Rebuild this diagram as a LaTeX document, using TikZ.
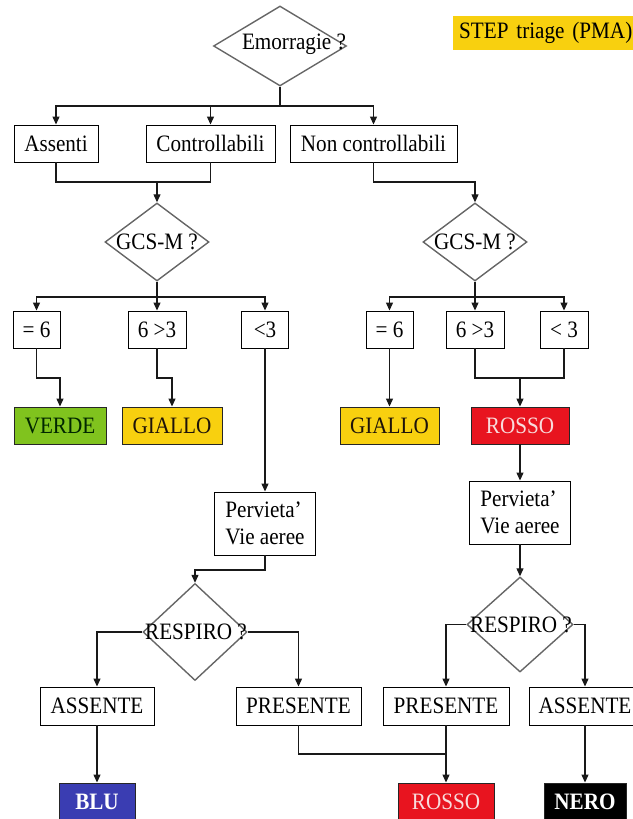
\documentclass[tikz,border=0pt]{standalone}
\usepackage{fontspec}
\setmainfont{Liberation Serif}[FakeStretch=0.9]
\usetikzlibrary{arrows.meta,shapes.geometric,calc}

\definecolor{stepyellow}{HTML}{F8D00F}
\definecolor{tgreen}{HTML}{80C31E}
\definecolor{tyellow}{HTML}{F8D00F}
\definecolor{tred}{HTML}{E8141F}
\definecolor{tblue}{HTML}{3A3DB2}
\definecolor{pinktext}{HTML}{F8DCDC}

\begin{document}
\begin{tikzpicture}[x=1pt,y=-1pt,
  every node/.style={font=\fontsize{23.5}{27}\selectfont, inner sep=0pt},
  box/.style={draw=black, line width=0.9pt, minimum height=37pt},
  tag/.style={draw=black!85, line width=0.9pt, minimum height=37pt},
  choice/.style={diamond, draw=black!60, line width=1.4pt},
  wire/.style={draw=black!90, line width=1.2pt},
  arr/.style={wire, -{Triangle[length=8pt,width=7pt]}},
]
\useasboundingbox (0,0) rectangle (632,819);

% junction levels
\coordinate (br1) at (0,106);
\coordinate (jn1) at (0,182);
\coordinate (br2) at (0,297);
\coordinate (jn2) at (0,378);
\coordinate (jn3) at (0,570);
\coordinate (jn4) at (0,754);

% title tag
\node[fill=stepyellow, anchor=west, text width=180pt, align=left,
      inner xsep=6pt, minimum height=34pt] (step) at (453,33) {STEP triage (PMA)};

% first question
\node[choice, minimum width=133pt, minimum height=80pt] (emo) at (280,46) {};
\node (emoT) at (294,44) {Emorragie ?};

\node[box, minimum width=84pt]  (assenti)  at (56,143.5)    {Assenti};
\node[box, minimum width=129pt] (contr)    at (210.5,143.5) {Controllabili};
\node[box, minimum width=167pt] (noncontr) at (373.5,143.5) {Non controllabili};

% GCS-M questions
\node[choice, minimum width=104pt, minimum height=78pt] (gcsL) at (157,242) {};
\node (gcsLT) at (157,242) {GCS-M ?};
\node[choice, minimum width=104pt, minimum height=78pt] (gcsR) at (475,242) {};
\node (gcsRT) at (475,242) {GCS-M ?};

\node[box, minimum width=47pt] (eqL)  at (36.5,329.5) {= 6};
\node[box, minimum width=58pt] (midL) at (157,329.5)  {6 >3};
\node[box, minimum width=47pt] (ltL)  at (265,329.5)  {<3};
\node[box, minimum width=47pt] (eqR)  at (389.5,329.5) {= 6};
\node[box, minimum width=58pt] (midR) at (475,329.5)  {6 >3};
\node[box, minimum width=48pt] (ltR)  at (564,329.5)  {< 3};

% colour codes
\node[tag, fill=tgreen, minimum width=92pt, text=black!85!green]   (verde)   at (60,425.5)    {VERDE};
\node[tag, fill=tyellow, minimum width=100pt, text=black!85!brown] (gialloL) at (172,425.5)   {GIALLO};
\node[tag, fill=tyellow, minimum width=99pt, text=black!85!brown]  (gialloR) at (389.5,425.5) {GIALLO};
\node[tag, fill=tred, minimum width=98pt, text=pinktext]           (rossoA)  at (520,425.5)   {ROSSO};

% airway check
\node[box, minimum width=101pt, minimum height=63pt, align=left] (pervL) at (265,523.5) {Pervieta'\\Vie aeree};
\node[box, minimum width=101pt, minimum height=63pt, align=left] (pervR) at (520,512.5) {Pervieta'\\Vie aeree};

% breathing questions
\node[choice, minimum width=104pt, minimum height=97pt] (respL) at (195,632) {};
\node (respLT) at (196,632) {RESPIRO ?};
\node[choice, minimum width=106pt, minimum height=95pt] (respR) at (520,624.5) {};
\node (respRT) at (521,624.5) {RESPIRO ?};

\node[box, minimum width=114pt, minimum height=38pt] (assL)  at (97,706)    {ASSENTE};
\node[box, minimum width=125pt, minimum height=38pt] (presL) at (298.5,706) {PRESENTE};
\node[box, minimum width=126pt, minimum height=38pt] (presR) at (446,706)   {PRESENTE};
\node[box, minimum width=112pt, minimum height=38pt] (assR)  at (585,706)   {ASSENTE};

\node[tag, fill=tblue, minimum width=76pt, text=white, font=\fontsize{23.5}{27}\selectfont\bfseries] (blu) at (97,801.5) {BLU};
\node[tag, fill=tred, minimum width=96pt, text=pinktext] (rossoB) at (446,801.5) {ROSSO};
\node[tag, fill=black, minimum width=82pt, text=white, font=\fontsize{23.5}{27}\selectfont\bfseries] (nero) at (585,801.5) {NERO};

% connectors: bleeding
\draw[wire] (emo.south) -- (emo.south |- br1);
\draw[arr] (emo.south |- br1) -| (assenti.north);
\draw[arr] (emo.south |- br1) -| (contr.north);
\draw[arr] (emo.south |- br1) -| (noncontr.north);

\draw[wire] (assenti.south) -- (assenti.south |- jn1) -- (contr.south |- jn1) -- (contr.south);
\draw[arr] (gcsL.north |- jn1) -- (gcsL.north);
\draw[arr] (noncontr.south) -- (noncontr.south |- jn1) -| (gcsR.north);

% connectors: GCS-M
\draw[wire] (gcsL.south) -- (gcsL.south |- br2);
\draw[arr] (gcsL.south |- br2) -| (eqL.north);
\draw[arr] (gcsL.south |- br2) -- (midL.north);
\draw[arr] (gcsL.south |- br2) -| (ltL.north);
\draw[wire] (gcsR.south) -- (gcsR.south |- br2);
\draw[arr] (gcsR.south |- br2) -| (eqR.north);
\draw[arr] (gcsR.south |- br2) -- (midR.north);
\draw[arr] (gcsR.south |- br2) -| (ltR.north);

\draw[arr] (eqL.south) -- (eqL.south |- jn2) -| (verde.north);
\draw[arr] (midL.south) -- (midL.south |- jn2) -| (gialloL.north);
\draw[arr] (ltL.south) -- (pervL.north);
\draw[arr] (eqR.south) -- (gialloR.north);
\draw[wire] (midR.south) -- (midR.south |- jn2) -- (ltR.south |- jn2) -- (ltR.south);
\draw[arr] (rossoA.north |- jn2) -- (rossoA.north);

% connectors: airway and breathing
\draw[arr] (rossoA.south) -- (pervR.north);
\draw[arr] (pervR.south) -- (respR.north);
\draw[arr] (pervL.south) -- (pervL.south |- jn3) -| (respL.north);

\draw[arr] (respL.west) -| (assL.north);
\draw[arr] (respL.east) -| (presL.north);
\draw[arr] (respR.west) -| (presR.north);
\draw[arr] (respR.east) -| (assR.north);

\draw[arr] (assL.south) -- (blu.north);
\draw[wire] (presL.south) -- (presL.south |- jn4) -- (presR.south |- jn4);
\draw[arr] (presR.south) -- (rossoB.north);
\draw[arr] (assR.south) -- (nero.north);
\end{tikzpicture}
\end{document}
